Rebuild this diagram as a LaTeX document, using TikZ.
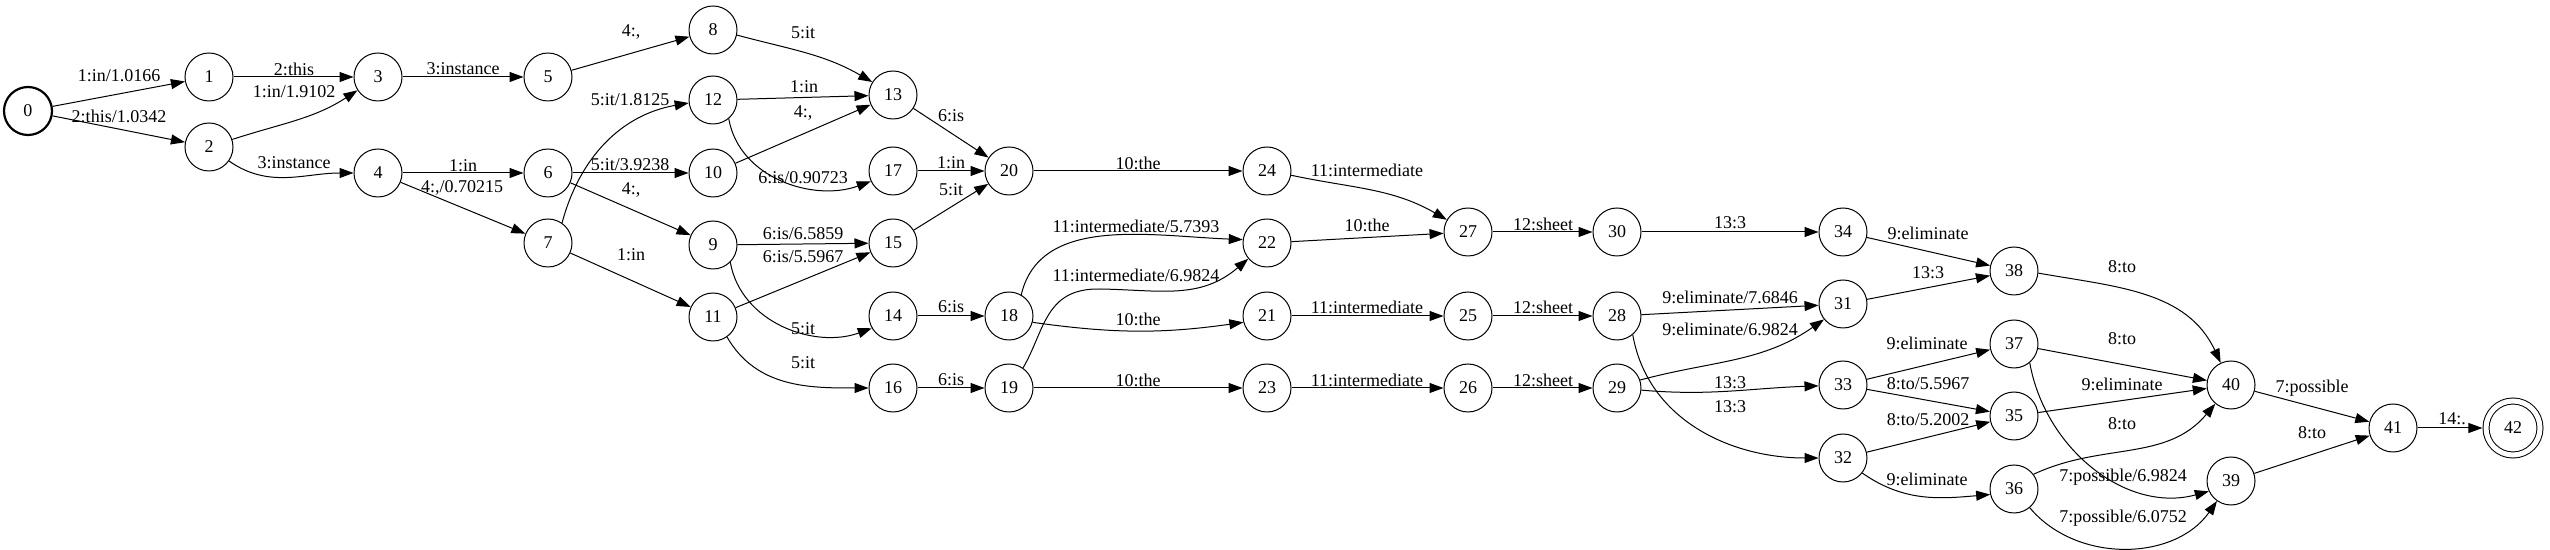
\documentclass[tikz,border=0pt]{standalone}
\usepackage{fontspec}
\setmainfont{Liberation Serif}
\usetikzlibrary{arrows.meta}

\begin{document}
\begin{tikzpicture}[x=0.5pt,y=0.5pt,
  font=\fontsize{9}{10}\selectfont,
  state/.style={circle, draw, line width=0.5pt, minimum size=24pt, inner sep=0pt},
  startstate/.style={state, line width=1.1pt},
  accstate/.style={state, double, double distance=2.5pt, minimum size=27pt, outer sep=1.8pt},
  arc/.style={-{Triangle[length=7pt,width=5pt]}, line width=0.5pt},
  lbl/.style={inner sep=0pt}]
  \useasboundingbox (0,0) rectangle (2550,-550);

  % States
  \node[startstate] (n0) at (28,-111) {0};
  \foreach \i/\x/\y in {1/209/77, 2/209/147, 3/378/77, 4/378/173, 5/548/77,
      6/548/173, 7/548/243, 8/713/30, 9/713/245, 10/713/173, 11/713/317,
      12/713/100, 13/893/95, 14/893/316, 15/893/243, 16/893/388, 17/893/171,
      18/1009/316, 19/1009/388, 20/1009/171, 21/1267/316, 22/1267/243,
      23/1267/388, 24/1267/171, 25/1468/316, 26/1468/388, 27/1468/232,
      28/1617/316, 29/1617/388, 30/1617/232, 31/1843/304, 32/1843/458,
      33/1843/385, 34/1843/232, 35/2014/416, 36/2014/489, 37/2014/344,
      38/2014/271, 39/2231/481, 40/2231/385, 41/2393/428}
    \node[state] (n\i) at (\x,-\y) {\i};
  \node[accstate] (n42) at (2513,-428) {42};

  % --- Arcs, first part ---
  \draw[arc] (n0) -- (n1) node[lbl] at (119,-76) {1:in/1.0166};
  \draw[arc] (n0) -- (n2) node[lbl] at (119,-116) {2:this/1.0342};
  \draw[arc] (n1) -- (n3) node[lbl] at (294,-69) {2:this};
  \draw[arc] (n2) to[out=18,in=213] (n3) node[lbl] at (294,-92) {1:in/1.9102};
  \draw[arc] (n2) to[out=-35,in=180] (n4) node[lbl] at (294,-163) {3:instance};
  \draw[arc] (n3) -- (n5) node[lbl] at (463,-69) {3:instance};
  \draw[arc] (n4) -- (n6) node[lbl] at (463,-166) {1:in};
  \draw[arc] (n4) -- (n7) node[lbl] at (462,-188) {4:,/0.70215};
  \draw[arc] (n5) -- (n8) node[lbl] at (631,-32) {4:,};
  \draw[arc] (n6) -- (n10) node[lbl] at (630,-165) {5:it/3.9238};
  \draw[arc] (n6) -- (n9) node[lbl] at (631,-190) {4:,};
  \draw[arc] (n7.55) to[out=75,in=190] (n12.187) node[lbl] at (630,-100) {5:it/1.8125};
  \draw[arc] (n7) -- (n11) node[lbl] at (631,-255) {1:in};
  \draw[arc] (n8.-12) to[out=-15,in=150] (n13.148) node[lbl] at (803,-33) {5:it};
  \draw[arc] (n12) -- (n13) node[lbl] at (804,-87) {1:in};
  \draw[arc] (n10) -- (n13) node[lbl] at (803,-113) {4:,};
  \draw[arc] (n12.-50) to[out=-80,in=200] (n17.205) node[lbl] at (803,-178) {6:is/0.90723};
  \draw[arc] (n9) -- (n15) node[lbl] at (803,-234) {6:is/6.5859};
  \draw[arc] (n11) -- (n15) node[lbl] at (803,-257) {6:is/5.5967};
  \draw[arc] (n9.-45) to[out=-80,in=200] (n14.210) node[lbl] at (803,-329) {5:it};
  \draw[arc] (n11.-55) to[out=-60,in=180] (n16) node[lbl] at (803,-363) {5:it};

  % --- Arcs, middle part ---
  \draw[arc] (n13) -- (n20) node[lbl] at (951,-116) {6:is};
  \draw[arc] (n17) -- (n20) node[lbl] at (951,-163) {1:in};
  \draw[arc] (n15) -- (n20) node[lbl] at (951,-190) {5:it};
  \draw[arc] (n14) -- (n18) node[lbl] at (951,-307) {6:is};
  \draw[arc] (n16) -- (n19) node[lbl] at (951,-380) {6:is};
  \draw[arc] (n20) -- (n24) node[lbl] at (1138,-163) {10:the};
  \draw[arc] (n18.60) .. controls (1040,-215) and (1150,-236) .. (n22.172)
    node[lbl] at (1136,-226) {11:intermediate/5.7393};
  \draw[arc] (n19.55) .. controls (1045,-330) and (1045,-288) .. (1100,-289)
    .. controls (1160,-290) and (1200,-300) .. (n22.220)
    node[lbl] at (1136,-275) {11:intermediate/6.9824};
  \draw[arc] (n18.-15) to[out=-8,in=188] (n21.195) node[lbl] at (1138,-319) {10:the};
  \draw[arc] (n19) -- (n23) node[lbl] at (1138,-380) {10:the};
  \draw[arc] (n24.-10) to[out=-12,in=150] (n27.150) node[lbl] at (1367,-170) {11:intermediate};
  \draw[arc] (n22) -- (n27) node[lbl] at (1367,-225) {10:the};
  \draw[arc] (n21) -- (n25) node[lbl] at (1367,-307) {11:intermediate};
  \draw[arc] (n23) -- (n26) node[lbl] at (1367,-380) {11:intermediate};
  \draw[arc] (n27) -- (n30) node[lbl] at (1543,-224) {12:sheet};
  \draw[arc] (n25) -- (n28) node[lbl] at (1543,-307) {12:sheet};
  \draw[arc] (n26) -- (n29) node[lbl] at (1543,-380) {12:sheet};

  % --- Arcs, last part ---
  \draw[arc] (n30) -- (n34) node[lbl] at (1730,-223) {13:3};
  \draw[arc] (n28) -- (n31) node[lbl] at (1730,-297) {9:eliminate/7.6846};
  \draw[arc] (n29.19) to[out=15,in=215] (n31.219) node[lbl] at (1730,-329) {9:eliminate/6.9824};
  \draw[arc] (n29) to[out=-5,in=182] (n33) node[lbl] at (1730,-383) {13:3};
  \draw[arc] (n28.-50) to[out=-80,in=180] (n32) node[lbl] at (1730,-407) {13:3};
  \draw[arc] (n34) -- (n38) node[lbl] at (1928,-233) {9:eliminate};
  \draw[arc] (n31) -- (n38) node[lbl] at (1928,-273) {13:3};
  \draw[arc] (n33) -- (n37) node[lbl] at (1927,-343) {9:eliminate};
  \draw[arc] (n33) -- (n35) node[lbl] at (1928,-384) {8:to/5.5967};
  \draw[arc] (n32) -- (n35) node[lbl] at (1928,-420) {8:to/5.2002};
  \draw[arc] (n32.-38) to[out=-35,in=185] (n36.193) node[lbl] at (1927,-479) {9:eliminate};
  \draw[arc] (n38.-5) to[out=-10,in=115] (n40.115) node[lbl] at (2122,-267) {8:to};
  \draw[arc] (n37) -- (n40) node[lbl] at (2122,-339) {8:to};
  \draw[arc] (n35) -- (n40) node[lbl] at (2122,-384) {9:eliminate};
  \draw[arc] (n36.37) to[out=25,in=230] (n40.230) node[lbl] at (2122,-424) {8:to};
  \draw[arc] (n37.-50) to[out=-80,in=195] (n39.205) node[lbl] at (2123,-477) {7:possible/6.9824};
  \draw[arc] (n36.-50) to[out=-50,in=235] (n39.235) node[lbl] at (2123,-518) {7:possible/6.0752};
  \draw[arc] (n40) -- (n41) node[lbl] at (2312,-388) {7:possible};
  \draw[arc] (n39) -- (n41) node[lbl] at (2312,-433) {8:to};
  \draw[arc] (n41) -- (n42) node[lbl] at (2452,-419) {14:.};
\end{tikzpicture}
\end{document}
